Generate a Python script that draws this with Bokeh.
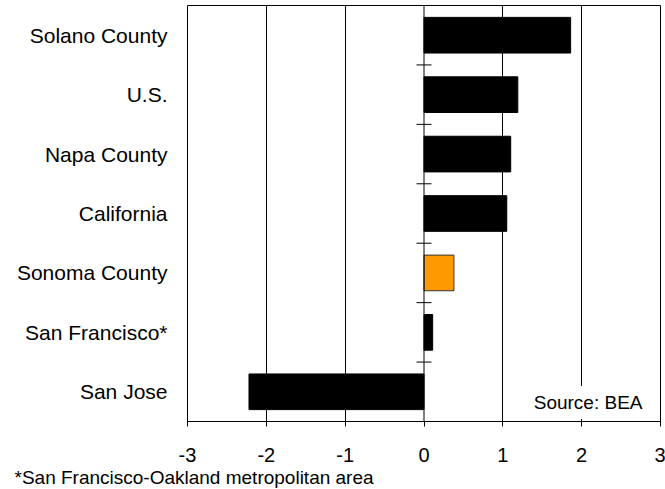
from bokeh.plotting import figure
from bokeh.models import FactorRange, Range1d, FixedTicker, Span, Label, Title
from bokeh.embed import file_html
from bokeh.resources import INLINE

# Employment growth by region, percent (top to bottom as listed)
regions = ["Solano County", "U.S.", "Napa County", "California",
           "Sonoma County", "San Francisco*", "San Jose"]
growth = [1.86, 1.19, 1.10, 1.05, 0.38, 0.11, -2.22]
highlight = "Sonoma County"
x_ticks = [-3, -2, -1, 0, 1, 2, 3]
source_note = "Source: BEA"
footnote = "*San Francisco-Oakland metropolitan area"

FONT = "Liberation Sans"

# FactorRange puts the first factor at the bottom, so reverse the list
factors = list(reversed(regions))

p = figure(width=665, height=489,
           x_range=Range1d(-3, 3),
           y_range=FactorRange(factors=factors, range_padding=0),
           output_backend="svg", toolbar_location=None,
           min_border_left=187, min_border_right=5,
           min_border_top=5, min_border_bottom=68)

p.background_fill_color = "white"
p.border_fill_color = "white"
p.outline_line_color = "black"
p.outline_line_width = 1

# vertical grid lines only
p.ygrid.visible = False
p.xgrid.ticker = FixedTicker(ticks=[t for t in x_ticks if t not in (-3, 0, 3)])
p.xgrid.grid_line_color = "black"
p.xgrid.grid_line_alpha = 1.0
p.xgrid.grid_line_width = 1

# bottom axis, plain hyphen-minus labels
xa = p.xaxis[0]
xa.ticker = FixedTicker(ticks=x_ticks)
xa.major_label_overrides = {t: str(t) for t in x_ticks}
xa.axis_line_color = "black"
xa.major_tick_line_color = "black"
xa.major_tick_in = 0
xa.major_tick_out = 5
xa.minor_tick_line_color = None
xa.major_label_text_font = FONT
xa.major_label_text_font_size = "20px"
xa.major_label_text_color = "black"
xa.major_label_standoff = 21

# left axis: category names only
ya = p.yaxis[0]
ya.axis_line_color = None
ya.major_tick_line_color = None
ya.minor_tick_line_color = None
ya.major_tick_out = 0
ya.major_tick_in = 0
ya.major_label_standoff = 20
ya.major_label_text_font = FONT
ya.major_label_text_font_size = "21px"
ya.major_label_text_color = "black"

colors = ["#FF9900" if r == highlight else "black" for r in regions]
edges = ["#333333" if r == highlight else "black" for r in regions]
p.hbar(y=regions, left=0, right=growth, height=0.6,
       fill_color=colors, line_color=edges, line_width=1)

# zero line with crossing ticks at the category boundaries
p.add_layout(Span(location=0, dimension="height",
                  line_color="black", line_width=1))
bounds = list(range(len(regions) + 1))
half = 0.095
p.segment(x0=[-half] * len(bounds), x1=[half] * len(bounds),
          y0=bounds, y1=bounds, line_color="black", line_width=1)

p.add_layout(Label(x=3, y=0, x_offset=-12, y_offset=19, text=source_note,
                   text_align="right", text_baseline="middle",
                   text_font=FONT, text_font_size="19px", text_color="black",
                   background_fill_color="white", padding=6))

# footnote under the axis, pulled left past the frame edge
p.add_layout(Title(text=footnote, align="left", offset=-173, standoff=0,
                   text_font=FONT, text_font_size="19px",
                   text_font_style="normal", text_color="black"), "below")

open("out.html", "w").write(file_html(p, INLINE))
